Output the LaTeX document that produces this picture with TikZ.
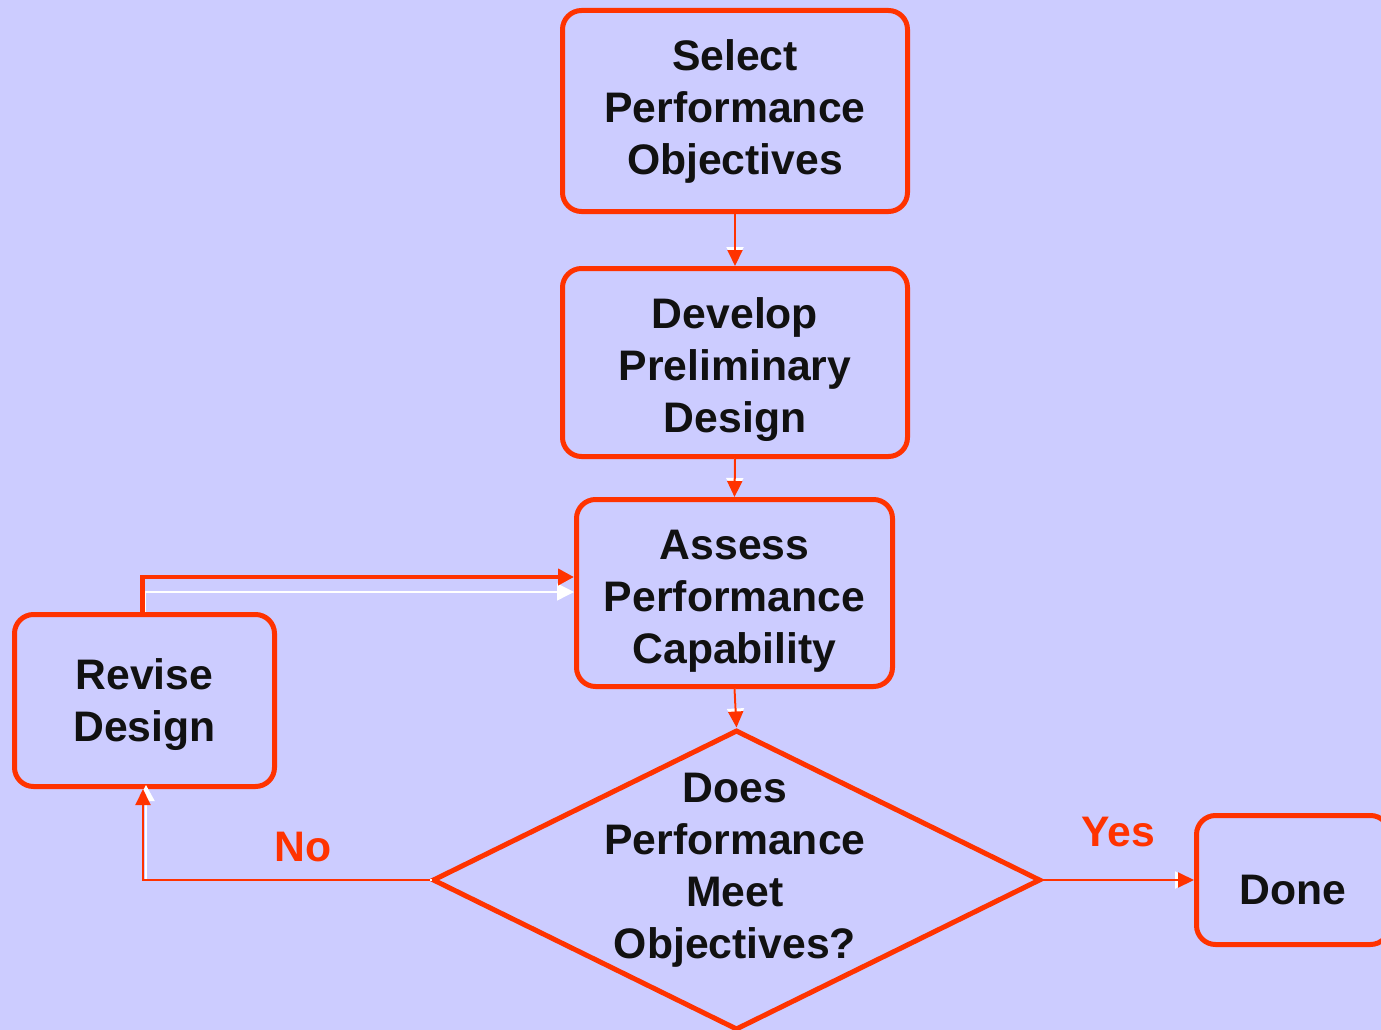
\documentclass[tikz,border=0pt]{standalone}
\usepackage{fontspec}
\setmainfont{Liberation Sans}
\usetikzlibrary{arrows.meta,shapes.geometric}
\definecolor{bg}{HTML}{CCCCFF}
\definecolor{fc}{HTML}{FF3300}
\definecolor{ink}{HTML}{111111}
\newcommand{\topstrut}[1]{\rule{0pt}{#1}}
\tikzset{
  box/.style={draw=fc, line width=5pt, rounded corners=19pt, inner sep=0pt,
    align=center, text=ink, font=\bfseries\fontsize{42.7}{52}\selectfont},
  dia/.style={draw=fc, line width=5pt, shape=diamond, inner sep=0pt,
    minimum width=608pt, minimum height=300pt},
  txt/.style={align=center, text=ink, font=\bfseries\fontsize{42.7}{52}\selectfont},
  lbl/.style={text=fc, font=\bfseries\fontsize{42.7}{52}\selectfont},
  thin/.style={draw=fc, line width=2pt, -{Triangle[length=16pt,width=15pt]}},
  thinshadow/.style={draw=white, line width=2pt, -{Triangle[length=16pt,width=17pt]}, shorten >=3pt},
  thick/.style={draw=fc, line width=4.5pt, -{Triangle[length=16pt,width=16pt]}},
  glow/.style={draw=white, line width=1.4pt, -{Triangle[length=17pt,width=17pt]}},
}
\begin{document}
\begin{tikzpicture}[x=1pt,y=-1pt]
\fill[bg] (0,0) rectangle (1381,1030);
\useasboundingbox (0,0) rectangle (1381,1030);

\node[box, minimum width=345pt, minimum height=201pt] (sel) at (735,111) {Select\\Performance\\Objectives};
\node[box, minimum width=345pt, minimum height=188pt] (dev) at (735,362.5) {\topstrut{45pt}Develop\\Preliminary\\Design};
\node[box, minimum width=316pt, minimum height=187pt] (ass) at (734.5,593) {\topstrut{45pt}Assess\\Performance\\Capability};
\node[box, minimum width=260pt, minimum height=172pt] (rev) at (144.5,700.5) {\topstrut{39pt}Revise\\Design};
\node[box, minimum width=193pt, minimum height=129pt] (done) at (1293,880) {\topstrut{49pt}Done};
\node[dia] (dec) at (736.5,880) {};
\node[txt] (dtxt) at (735,870) {Does\\Performance\\Meet\\Objectives?};

\node[lbl] (yes) at (1118,832) {Yes};
\node[lbl] (no) at (303,847) {No};

% straight connectors with white shadow
\draw[thinshadow] (sel.south) -- (dev.north);
\draw[thin] (sel.south) -- (dev.north);
\draw[thinshadow] (dev.south) -- (ass.north);
\draw[thin] (dev.south) -- (ass.north);
\draw[thinshadow] (ass.south) -- (dec.north);
\draw[thin] (ass.south) -- (dec.north);
\draw[thinshadow] (dec.east) -- (done.west);
\draw[thin] (dec.east) -- (done.west);

% No branch
\draw[thinshadow, shorten >=0pt] ([xshift=1.5pt]dec.west) -| ([xshift=1.5pt,yshift=4pt]rev.south);
\draw[thin] (dec.west) -| ([xshift=-1.5pt]rev.south);

% loop back from Revise Design
\draw[glow] ([xshift=1pt]rev.north) |- (ass.west |- 0,592);
\draw[thick] ([xshift=-2pt]rev.north) |- (ass.west |- 0,577);
\end{tikzpicture}
\end{document}
